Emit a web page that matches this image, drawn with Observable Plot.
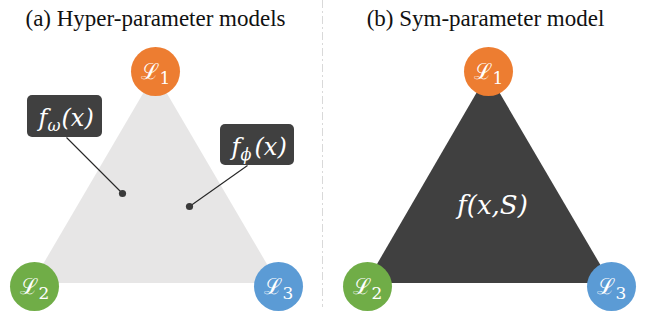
<!DOCTYPE html>
<html>
<head>
<meta charset="utf-8">
<script src="https://cdn.jsdelivr.net/npm/d3@7"></script>
<script src="https://cdn.jsdelivr.net/npm/@observablehq/plot@0.6"></script>
<style>
  html, body { margin: 0; padding: 0; background: #fff; }
</style>
</head>
<body>
<div id="chart"></div>
<script>
// ---- data ----
const panelTitles = ["(a) Hyper-parameter models", "(b) Sym-parameter model"];
const panelTitleX = [155, 485];
const panelTitleY = [25, 25];

const lossSubscripts = ["1", "2", "3"];
const lossColors = ["#ED7D31", "#70AD47", "#5B9BD5"];
const nodeXa = [155, 34, 278];
const nodeXb = [488, 367, 611];
const nodeY = [71, 286, 286];

// triangle outline (left vertex, apex, right vertex)
const triXa = [32, 155, 278];
const triXb = [366, 488, 611];
const triTopY = [283, 73, 283];
const triBaseY = 283;

// panel (a): two separately parameterised models
const modelSubscripts = ["ω", "ϕ"];
const boxX1 = [27, 220];
const boxX2 = [102, 294];
const boxY1 = [95, 124];
const boxY2 = [137, 165];
const leaderX = [66, 247];
const leaderY = [137, 165];
const pointX = [122, 189];
const pointY = [193, 206];

// panel (b): one shared model
const symModel = "f(x,S)";
const symX = 492;
const symY = 213;

const separatorX = 322;

// ---- build rows ----
const nodes = [];
[nodeXa, nodeXb].forEach((xs) => xs.forEach((x, i) =>
  nodes.push({x, y: nodeY[i], sub: lossSubscripts[i], color: lossColors[i]})));
const triA = triXa.map((x, i) => ({x, y: triTopY[i]}));
const triB = triXb.map((x, i) => ({x, y: triTopY[i]}));
const models = modelSubscripts.map((s, i) => ({
  sub: s, x1: boxX1[i], x2: boxX2[i], y1: boxY1[i], y2: boxY2[i],
  lx: leaderX[i], ly: leaderY[i], px: pointX[i], py: pointY[i]
}));

const mathFont = "DejaVu Serif";
const titleFont = "Liberation Serif";

const chart = Plot.plot({
  width: 645,
  height: 311,
  margin: 0,
  x: {domain: [0, 645], range: [0, 645], axis: null},
  y: {domain: [0, 311], range: [0, 311], axis: null},
  color: {type: "identity"},
  marks: [
    Plot.ruleX([separatorX], {y1: 0, y2: 307, stroke: "#d9d9d9", strokeWidth: 1, strokeDasharray: "8,3,2,3"}),
    Plot.areaY(triA, {x: "x", y1: triBaseY, y2: "y", fill: "#E7E6E6", curve: "linear"}),
    Plot.areaY(triB, {x: "x", y1: triBaseY, y2: "y", fill: "#404040", curve: "linear"}),
    Plot.link(models, {x1: "lx", y1: "ly", x2: "px", y2: "py", stroke: "#262626", strokeWidth: 1.1}),
    Plot.dot(models, {x: "px", y: "py", r: 3.6, fill: "#3a3a3a"}),
    Plot.rect(models, {x1: "x1", x2: "x2", y1: "y1", y2: "y2", fill: "#404040", rx: 5}),
    Plot.text(models, {x: "x1", y: "y1", dx: 11, dy: 30, text: () => "f", textAnchor: "start", lineAnchor: "bottom",
      fill: "white", fontFamily: mathFont, fontStyle: "italic", fontSize: 24}),
    Plot.text(models, {x: "x1", y: "y1", dx: 20, dy: 35, text: "sub", textAnchor: "start", lineAnchor: "bottom",
      fill: "white", fontFamily: mathFont, fontStyle: "italic", fontSize: 16}),
    Plot.text(models, {x: "x1", y: "y1", dx: 34, dy: 30, text: () => "(x)", textAnchor: "start", lineAnchor: "bottom",
      fill: "white", fontFamily: mathFont, fontStyle: "italic", fontSize: 24}),
    Plot.text([symModel], {x: [symX], y: [symY], text: d => d, textAnchor: "middle", lineAnchor: "bottom",
      fill: "white", fontFamily: mathFont, fontStyle: "italic", fontSize: 26}),
    Plot.dot(nodes, {x: "x", y: "y", r: 24.5, fill: "color"}),
    Plot.text(nodes, {x: "x", y: "y", dx: 3, dy: 7, text: () => "ℒ", textAnchor: "end", lineAnchor: "bottom",
      fill: "white", fontFamily: mathFont, fontSize: 22}),
    Plot.text(nodes, {x: "x", y: "y", dx: 4, dy: 12, text: "sub", textAnchor: "start", lineAnchor: "bottom",
      fill: "white", fontFamily: mathFont, fontSize: 17}),
    Plot.text(panelTitles, {x: panelTitleX, y: panelTitleY, text: d => d, textAnchor: "middle", lineAnchor: "bottom",
      fill: "#111", fontFamily: titleFont, fontSize: 23})
  ]
});
document.getElementById("chart").appendChild(chart);
</script>
</body>
</html>
